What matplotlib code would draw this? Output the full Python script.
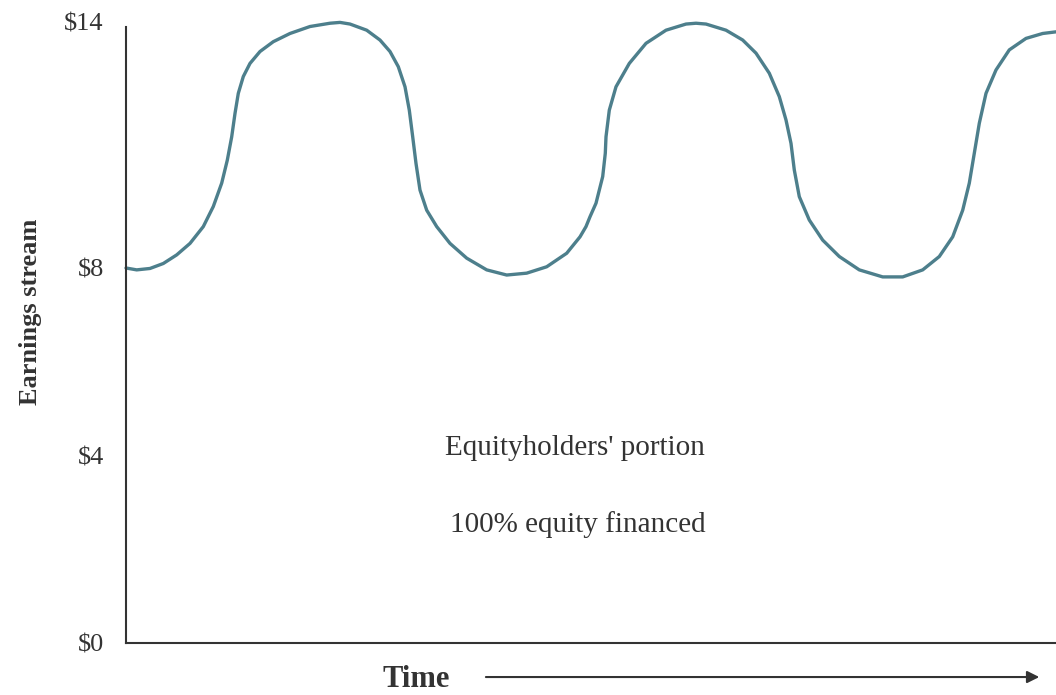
import numpy as np
import matplotlib
matplotlib.use('Agg')
import matplotlib.pyplot as plt

# earnings stream (time in arbitrary units, $)
time = [0.0, 1.07, 2.4, 3.73, 5.07, 6.4, 7.73, 8.73, 9.57, 10.13, 10.57, 10.9, 11.23, 11.73,
        12.4, 13.4, 14.73, 16.4, 18.4, 20.4, 21.4, 22.4, 24.07, 25.4, 26.4, 27.23, 27.9,
        28.33, 28.67, 29.0, 29.4, 30.07, 31.07, 32.4, 34.07, 36.07, 38.07, 40.07, 42.07,
        44.07, 45.4, 46.0, 46.4, 47.0, 47.67, 47.93, 48.0, 48.33, 49.0, 50.33, 52.0, 54.0,
        56.0, 57.0, 58.0, 60.0, 61.67, 63.0, 64.33, 65.33, 66.0, 66.5, 66.83, 67.33, 68.33,
        69.67, 71.33, 73.33, 75.67, 77.67, 79.67, 81.33, 82.67, 83.67, 84.33, 84.83, 85.33,
        86.0, 87.0, 88.33, 90.0, 91.67, 93.0]
earnings = [8.00, 7.96, 7.99, 8.11, 8.32, 8.60, 9.01, 9.50, 10.07, 10.63, 11.20, 11.77, 12.26, 12.67,
            12.99, 13.28, 13.52, 13.72, 13.89, 13.97, 13.99, 13.95, 13.80, 13.56, 13.28, 12.91, 12.42,
            11.85, 11.20, 10.55, 9.90, 9.41, 9.01, 8.60, 8.24, 7.96, 7.85, 7.89, 8.03,
            8.36, 8.76, 9.01, 9.25, 9.58, 10.23, 10.80, 11.20, 11.85, 12.42, 12.99, 13.48, 13.80,
            13.95, 13.97, 13.95, 13.80, 13.56, 13.24, 12.75, 12.18, 11.61, 11.04, 10.39, 9.74, 9.17,
            8.68, 8.28, 7.96, 7.81, 7.81, 7.96, 8.28, 8.76, 9.41, 10.07, 10.80, 11.53,
            12.26, 12.83, 13.32, 13.60, 13.72, 13.76]

yticks = [0, 4, 8, 14]
ytick_labels = ['$0', '$4', '$8', '$14']

# the book's axis is squeezed above $8
squeeze = 41 / 46.875


def fwd(v):
    v = np.asarray(v, dtype=float)
    return np.where(v <= 8, v, 8 + (v - 8) * squeeze)


def inv(u):
    u = np.asarray(u, dtype=float)
    return np.where(u <= 8, u, 8 + (u - 8) / squeeze)


plt.rcParams['font.family'] = ['Liberation Serif', 'DejaVu Serif']
ink = '#333333'

fig = plt.figure(figsize=(10.56, 6.95), dpi=100)
ax = fig.add_axes([126 / 1056, 52 / 695, 930 / 1056, 621 / 695])

ax.plot(time, earnings, color='#4d7f8c', lw=2.4, solid_joinstyle='round',
        solid_capstyle='round', clip_on=False)

ax.set_yscale('function', functions=(fwd, inv))
ax.set_ylim(0, 14)
ax.set_xlim(0, 93)
ax.set_yticks(yticks)
ax.set_yticklabels(ytick_labels, fontsize=19, color=ink)
ax.set_xticks([])
ax.yaxis.set_minor_locator(matplotlib.ticker.NullLocator())
ax.tick_params(axis='y', length=0, pad=16)

for s in ['top', 'right']:
    ax.spines[s].set_visible(False)
ax.spines['left'].set_bounds(0, 13.88)
ax.spines['left'].set_color(ink)
ax.spines['bottom'].set_color(ink)
ax.spines['left'].set_linewidth(1.5)
ax.spines['bottom'].set_linewidth(1.5)

ax.set_ylabel('Earnings stream', fontsize=19, fontweight='bold', color=ink)
ax.yaxis.set_label_coords(-0.09, 0.533)

ax.text(0.483, 0.314, "Equityholders' portion", transform=ax.transAxes,
        ha='center', va='center', fontsize=21, color=ink)
ax.text(0.486, 0.190, '100% equity financed', transform=ax.transAxes,
        ha='center', va='center', fontsize=21, color=ink)

ax.text(0.312, -0.058, 'Time', transform=ax.transAxes, ha='center', va='center',
        fontsize=22, fontweight='bold', color=ink, clip_on=False)
ax.annotate('', xy=(0.985, -0.0548), xytext=(0.384, -0.0548), xycoords='axes fraction',
            arrowprops=dict(arrowstyle='-|>', color=ink, lw=1.5, mutation_scale=18))

plt.savefig('out.png', dpi=100)
